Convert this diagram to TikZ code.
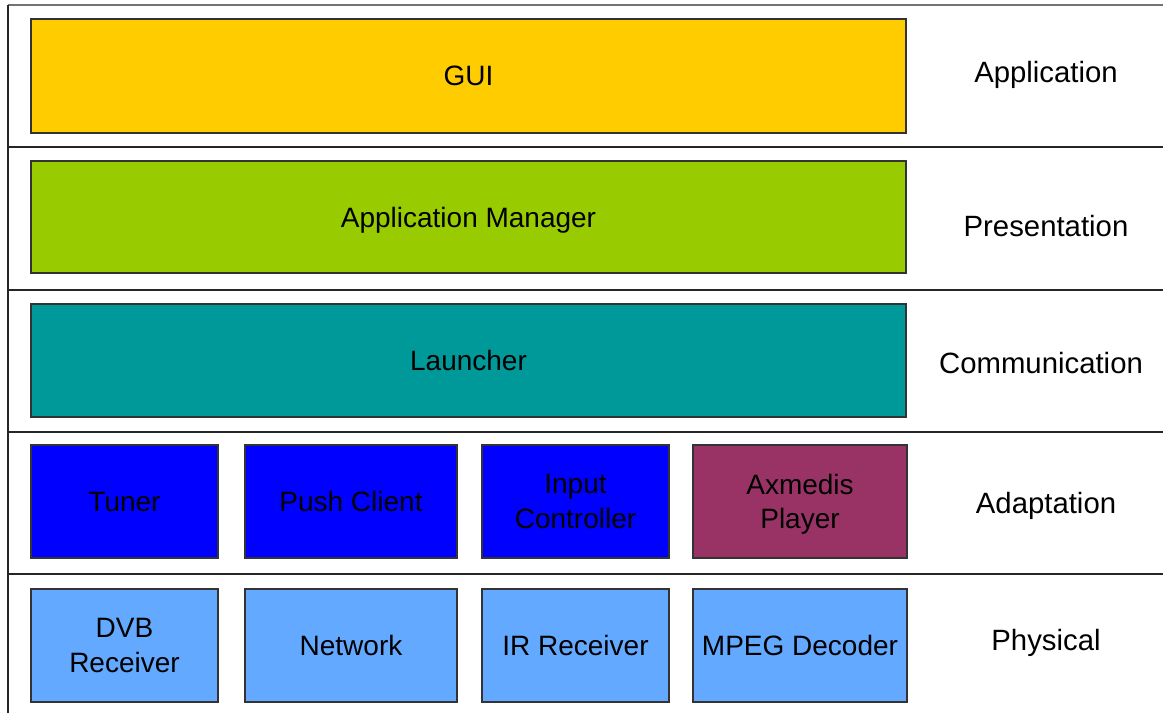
\documentclass[tikz,border=0pt]{standalone}
\usepackage{fontspec}
\setmainfont{Liberation Sans}

\definecolor{guiyellow}{HTML}{FFCC00}
\definecolor{mgrgreen}{HTML}{99CC00}
\definecolor{launchteal}{HTML}{009999}
\definecolor{adaptblue}{HTML}{0000FF}
\definecolor{playerplum}{HTML}{993366}
\definecolor{physblue}{HTML}{63A9FF}

\tikzset{
  layerbox/.style={draw=black!80, line width=0.8pt, inner sep=0pt, align=center,
    text depth=0pt, font=\fontsize{21}{26}\selectfont},
  layername/.style={font=\fontsize{22}{26}\selectfont},
  divider/.style={line width=1.4pt, black!85}
}

\begin{document}
\begin{tikzpicture}[x=0.75pt, y=-0.75pt]
\useasboundingbox (0,0) rectangle (1163,713);

% frame and layer dividers
\coordinate (tl) at (8,5);
\coordinate (tr) at (1163,5);
\coordinate (bl) at (8,713);
\draw[line width=1.4pt, black!55] (tl) -- (tr);
\draw[divider] (tl) -- (bl);
\foreach \y in {147,290,432,574}
  \draw[divider] (8,\y) -- (1163,\y);

% wide layers
\node[layerbox, fill=guiyellow, minimum width=656.25pt, minimum height=85.5pt]
  (gui) at (468.5,76) {GUI};
\node[layerbox, fill=mgrgreen, minimum width=656.25pt, minimum height=84pt]
  (appmgr) at (468.5,217) {Application Manager};
\node[layerbox, fill=launchteal, minimum width=656.25pt, minimum height=84.75pt]
  (launcher) at (468.5,360.5) {Launcher};

% adaptation row
\node[layerbox, fill=adaptblue, minimum width=140.25pt, minimum height=84.75pt]
  (tuner) at (124.5,501.5) {Tuner};
\node[layerbox, fill=adaptblue, minimum width=159pt, minimum height=84.75pt]
  (push) at (351,501.5) {Push Client};
\node[layerbox, fill=adaptblue, minimum width=140.25pt, minimum height=84.75pt]
  (input) at (575.5,501.5) {Input\\Controller};
\node[layerbox, fill=playerplum, minimum width=160.5pt, minimum height=84.75pt]
  (player) at (800,501.5) {Axmedis\\Player};

% physical row
\node[layerbox, fill=physblue, minimum width=140.25pt, minimum height=84.75pt]
  (dvb) at (124.5,645.5) {DVB\\Receiver};
\node[layerbox, fill=physblue, minimum width=159pt, minimum height=84.75pt]
  (network) at (351,645.5) {Network};
\node[layerbox, fill=physblue, minimum width=140.25pt, minimum height=84.75pt]
  (irrecv) at (575.5,645.5) {IR Receiver};
\node[layerbox, fill=physblue, minimum width=160.5pt, minimum height=84.75pt]
  (mpeg) at (800,645.5) {MPEG Decoder};

% layer names
\node[layername] (lapp) at (1046,75) {Application};
\node[layername] (lpres) at (1046,226) {Presentation};
\node[layername] (lcomm) at (1041,363) {Communication};
\node[layername] (ladapt) at (1046,506) {Adaptation};
\node[layername] (lphys) at (1046,643) {Physical};

\end{tikzpicture}
\end{document}
